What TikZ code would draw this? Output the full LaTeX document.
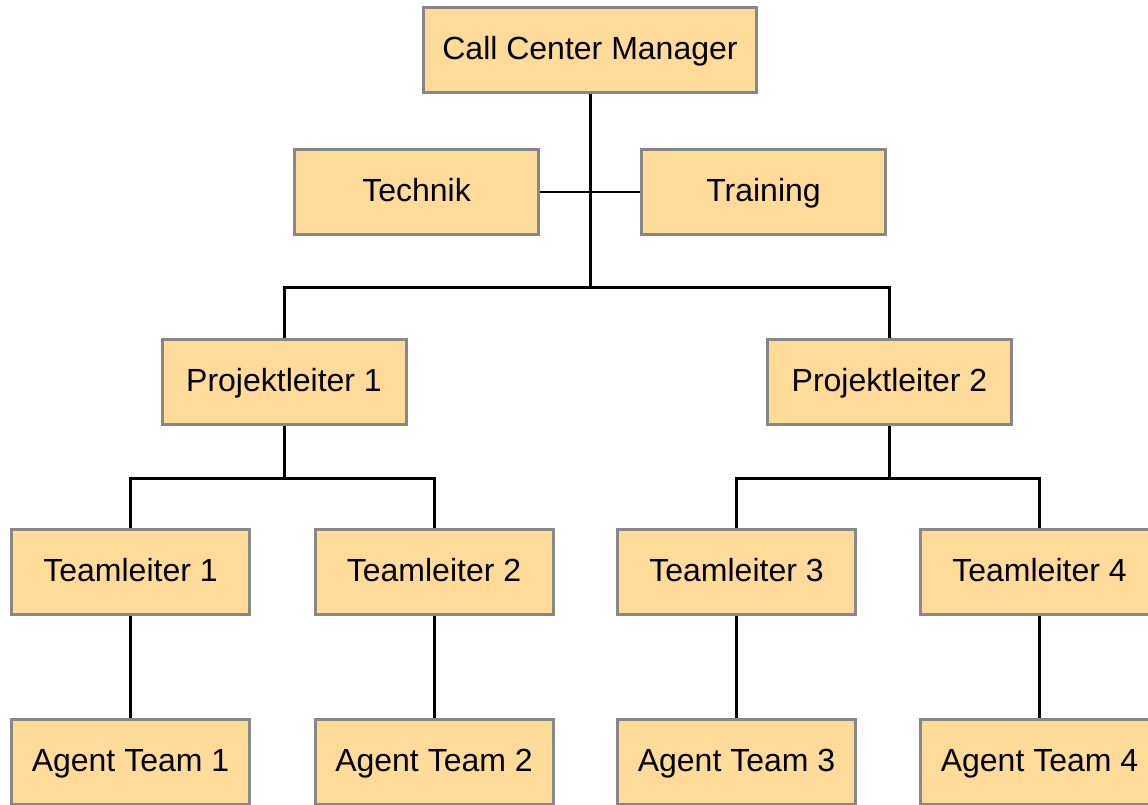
\documentclass[tikz,border=0pt]{standalone}
\usepackage{fontspec}
\setmainfont{Liberation Sans}
\definecolor{boxfill}{HTML}{FFDB99}
\definecolor{boxline}{HTML}{878787}
\begin{document}
\begin{tikzpicture}[x=1pt,y=-1pt,
  orgbox/.style={draw=boxline, fill=boxfill, line width=3pt, inner sep=0pt,
    minimum height=85pt, text height=23pt, text depth=4pt,
    font=\fontsize{32}{36}\selectfont},
  wide/.style={orgbox, minimum width=333pt},
  mid/.style={orgbox, minimum width=244pt},
  small/.style={orgbox, minimum width=238pt},
  link/.style={line width=3pt, black},
  thinlink/.style={line width=2pt, black}]
\useasboundingbox (0,0) rectangle (1148,804);
\clip (0,0) rectangle (1148,804);
% nodes
\node[wide] (ccm) at (590,50) {Call Center Manager};
\node[mid] (tech) at (416.5,192) {Technik};
\node[mid] (train) at (763.5,192) {Training};
\node[mid] (pl1) at (284,382) {Projektleiter 1};
\node[mid] (pl2) at (889.5,382) {Projektleiter 2};
\node[small] (tl1) at (130.5,572) {Teamleiter 1};
\node[small] (tl2) at (434,572) {Teamleiter 2};
\node[small] (tl3) at (736.5,572) {Teamleiter 3};
\node[small] (tl4) at (1039.5,572) {Teamleiter 4};
\node[small] (at1) at (130.5,762) {Agent Team 1};
\node[small] (at2) at (434,762) {Agent Team 2};
\node[small] (at3) at (736.5,762) {Agent Team 3};
\node[small] (at4) at (1039.5,762) {Agent Team 4};
% bus coordinates
\coordinate (bus0) at (590,287);
\coordinate (bus1) at (284,478);
\coordinate (bus2) at (889.5,478);
% connectors
\draw[thinlink] (tech.east) -- (train.west);
\draw[link] (ccm.south) -- (bus0);
\draw[link] (pl1.north) -- (pl1.north |- bus0) -- (pl2.north |- bus0) -- (pl2.north);
\draw[link] (pl1.south) -- (bus1);
\draw[link] (tl1.north) -- (tl1.north |- bus1) -- (tl2.north |- bus1) -- (tl2.north);
\draw[link] (pl2.south) -- (bus2);
\draw[link] (tl3.north) -- (tl3.north |- bus2) -- (tl4.north |- bus2) -- (tl4.north);
\draw[link] (tl1.south) -- (at1.north);
\draw[link] (tl2.south) -- (at2.north);
\draw[link] (tl3.south) -- (at3.north);
\draw[link] (tl4.south) -- (at4.north);
\end{tikzpicture}
\end{document}
